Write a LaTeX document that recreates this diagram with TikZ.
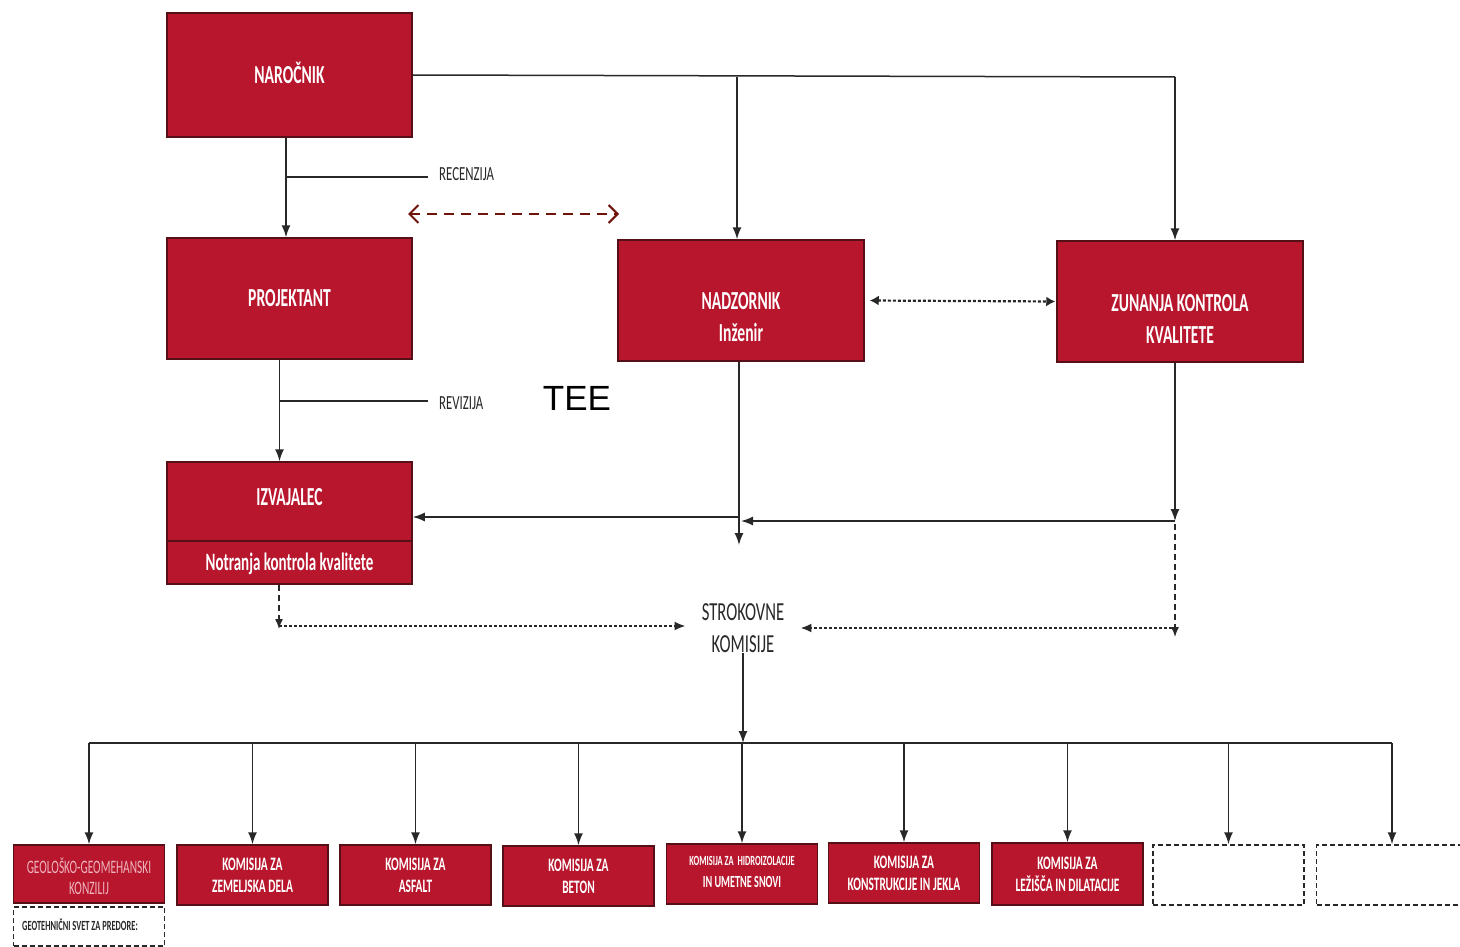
\documentclass[tikz,border=0pt]{standalone}
\usepackage{fontspec}
\setmainfont{Carlito}
\newfontfamily\cond[FakeStretch=0.64]{Carlito}
\newfontfamily\condb[FakeStretch=0.6]{Carlito}
\newfontfamily\arialf{Liberation Sans}
\usetikzlibrary{arrows.meta}
\definecolor{boxred}{RGB}{183,22,45}
\definecolor{boxedge}{RGB}{85,15,22}
\definecolor{brownarr}{RGB}{110,20,10}
\definecolor{pinktxt}{RGB}{238,180,190}
\definecolor{linegray}{RGB}{40,40,40}
\begin{document}
\begin{tikzpicture}[x=1pt,y=-1pt,
  redbox/.style={draw=boxedge, line width=1.5pt, fill=boxred, inner sep=0pt},
  boxtext/.style={text=white, align=center, inner sep=0pt, font=\condb\bfseries\fontsize{26}{32}\selectfont},
  smalltext/.style={text=white, align=center, inner sep=0pt, font=\condb\bfseries\fontsize{19}{22}\selectfont},
  emptybox/.style={draw=linegray, line width=1.5pt, dash pattern=on 5pt off 3pt, inner sep=0pt},
  lbl/.style={text=linegray, inner sep=0pt, anchor=west, font=\cond\fontsize{20}{24}\selectfont},
  conn/.style={draw=linegray, line width=1.5pt},
  arr/.style={conn, -{Latex[length=12pt,width=9pt]}},
  dotarr/.style={draw=linegray, line width=2pt, dash pattern=on 3pt off 2pt, -{Latex[length=11pt,width=9pt]}},
  dashline/.style={draw=linegray, line width=1.4pt, dash pattern=on 6pt off 4pt}
]
\useasboundingbox (0,0) rectangle (1460,947);
\fill[white] (0,0) rectangle (1460,947);

% main boxes
\node[redbox, minimum width=245pt, minimum height=124pt] (nar) at (289.5,75) {};
\node[boxtext] at (289.5,73) {NAROČNIK};
\node[redbox, minimum width=245pt, minimum height=121pt] (proj) at (289.5,298.5) {};
\node[boxtext] at (proj.center) {PROJEKTANT};
\node[redbox, minimum width=246pt, minimum height=121pt] (nadz) at (741,300.5) {};
\node[boxtext] at (741,317) {NADZORNIK\\Inženir};
\node[redbox, minimum width=246pt, minimum height=121pt] (zun) at (1180,301.5) {};
\node[boxtext] at (1180,318.5) {ZUNANJA KONTROLA\\KVALITETE};
\node[redbox, minimum width=245pt, minimum height=79pt] (izv) at (289.5,501.5) {};
\node[boxtext] at (289.5,497) {IZVAJALEC};
\node[redbox, minimum width=245pt, minimum height=43pt] (ntk) at (289.5,562.5) {};
\node[boxtext, font=\condb\bfseries\fontsize{25}{30}\selectfont] at (289.5,564) {Notranja kontrola kvalitete};

% Strokovne komisije
\node[inner sep=0pt, align=center, text=linegray, font=\cond\fontsize{26}{32}\selectfont] (strk) at (743,628) {STROKOVNE\\KOMISIJE};

% TEE
\node[inner sep=0pt, font=\arialf\fontsize{35}{40}\selectfont] (tee) at (577,398) {TEE};

% bottom boxes
\node[redbox, minimum width=151pt, minimum height=58pt] (k1) at (89,874) {};
\node[smalltext, text=pinktxt, font=\condb\fontsize{19}{21}\selectfont] at (89,876) {GEOLOŠKO-GEOMEHANSKI\\KONZILIJ};
\node[emptybox, minimum width=151pt, minimum height=39pt] (k1b) at (89,926.5) {};
\node[inner sep=0pt, anchor=west, text=linegray, font=\condb\bfseries\fontsize{14}{16}\selectfont] at (22,925) {GEOTEHNIČNI SVET ZA PREDORE:};

\node[redbox, minimum width=151pt, minimum height=60pt] (k2) at (252.5,875) {};
\node[smalltext] at (k2.center) {KOMISIJA ZA\\ZEMELJSKA DELA};
\node[redbox, minimum width=151pt, minimum height=60pt] (k3) at (415.5,875) {};
\node[smalltext] at (k3.center) {KOMISIJA ZA\\ASFALT};
\node[redbox, minimum width=151pt, minimum height=60pt] (k4) at (578.5,876) {};
\node[smalltext] at (k4.center) {KOMISIJA ZA\\BETON};
\node[redbox, minimum width=151pt, minimum height=60pt] (k5) at (742,874) {};
\node[smalltext] at (742,872) {{\fontsize{14}{16}\selectfont KOMISIJA ZA \ HIDROIZOLACIJE}\\{\fontsize{17}{20}\selectfont IN UMETNE SNOVI}};
\node[redbox, minimum width=151pt, minimum height=60pt] (k6) at (904,873) {};
\node[smalltext] at (k6.center) {KOMISIJA ZA\\KONSTRUKCIJE IN JEKLA};
\node[redbox, minimum width=151pt, minimum height=62pt] (k7) at (1067.5,874) {};
\node[smalltext] at (k7.center) {KOMISIJA ZA\\LEŽIŠČA IN DILATACIJE};
\node[emptybox, minimum width=151pt, minimum height=60pt] (k8) at (1228.5,875) {};
\node[emptybox, minimum width=151pt, minimum height=60pt] (k9) at (1392,875) {};

% top connectors
\coordinate (t1) at (1175,77);
\draw[conn] (nar.east) -- (t1);
\draw[arr] (t1) -- (t1 |- zun.north);
\draw[arr] ([xshift=-4pt]nadz.north |- t1) -- ([xshift=-4pt]nadz.north);
\draw[arr] ([xshift=-3.5pt]nar.south) -- ([xshift=-3.5pt]proj.north);
\coordinate (rc) at (428,177);
\draw[conn] ([xshift=-3.5pt]nar.south |- rc) -- (rc);
\node[lbl] (recl) at (439,174) {RECENZIJA};
\draw[arr] ([xshift=-10pt]proj.south) -- ([xshift=-10pt]izv.north);
\coordinate (rv) at (428,401);
\draw[conn] ([xshift=-10pt]proj.south |- rv) -- (rv);
\node[lbl] (revl) at (439,403) {REVIZIJA};

% brown dashed double arrow
\coordinate (r1) at (408,214);
\coordinate (r2) at (619,214);
\draw[brownarr, line width=2pt, dash pattern=on 10pt off 7pt,
  {Straight Barb[length=9pt,width=18pt]}-{Straight Barb[length=9pt,width=18pt]}] (r1) -- (r2);

% nadzornik <-> zunanja
\draw[draw=linegray, line width=2.2pt, dash pattern=on 3pt off 2pt,
  {Latex[length=9pt,width=10pt]}-{Latex[length=9pt,width=10pt]}] ([xshift=5pt]nadz.east) -- ([xshift=-1pt]zun.west);

% lower connectors
\coordinate (j1) at (739,517);
\coordinate (j1e) at (739,545);
\draw[arr] ([xshift=-2pt]nadz.south) -- (j1e);
\draw[arr] (j1) -- (izv.east |- j1);
\coordinate (j2) at (1175,521);
\draw[arr] (j2 |- zun.south) -- (j2);
\draw[arr] (j2) -- ([xshift=2pt]j1 |- j2);

% dashed to Strokovne
\coordinate (z1) at (1175,524);
\coordinate (z2) at (1175,637);
\draw[dashline, -{Latex[length=10pt,width=8pt]}] (z1) -- (z2);
\coordinate (z3) at (1172,628);
\draw[dotarr] (z3) -- ([xshift=16pt]strk.east |- z3);
\coordinate (i1) at (279,626);
\draw[dashline, -{Latex[length=10pt,width=8pt]}] (i1 |- ntk.south) -- ([yshift=-3pt]i1);
\draw[dotarr] (i1) -- ([xshift=-16pt]strk.west |- i1);

% bus
\coordinate (bus) at (743,743);
\draw[arr] (strk.south) -- (bus);
\draw[conn, line width=2pt] (k1.north |- bus) -- (k9.north |- bus);
\foreach \k in {k1,k2,k3,k4,k5,k6,k7,k8,k9}
  \draw[arr] (\k.north |- bus) -- (\k.north);
\end{tikzpicture}
\end{document}
